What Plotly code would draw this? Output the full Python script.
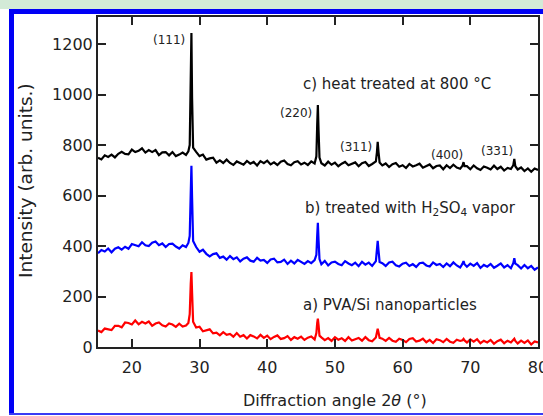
import plotly.graph_objects as go

# Diffraction angle 2θ (degrees), shared by all three patterns
two_theta = [
    15.0, 15.5, 16.0, 16.5, 17.0, 17.5, 18.0, 18.5, 19.0, 19.5, 20.0, 20.5, 21.0, 21.5,
    22.0, 22.5, 23.0, 23.5, 24.0, 24.5, 25.0, 25.5, 26.0, 26.5, 27.0, 27.5, 28.0,
    28.35, 28.55, 28.7, 28.8, 28.9, 29.05,
    29.5, 30.0, 30.5, 31.0, 31.5, 32.0, 32.5, 33.0, 33.5, 34.0, 34.5, 35.0, 35.5,
    36.0, 36.5, 37.0, 37.5, 38.0, 38.5, 39.0, 39.5, 40.0, 40.5, 41.0, 41.5, 42.0, 42.5,
    43.0, 43.5, 44.0, 44.5, 45.0, 45.5, 46.0, 46.5, 47.0,
    47.26, 47.38, 47.48, 47.58, 47.72,
    48.0, 48.5, 49.0, 49.5, 50.0, 50.5, 51.0, 51.5, 52.0, 52.5, 53.0, 53.5, 54.0, 54.5,
    55.0, 55.5,
    56.05, 56.2, 56.32, 56.44, 56.6,
    57.0, 57.5, 58.0, 58.5, 59.0, 59.5, 60.0, 60.5, 61.0, 61.5, 62.0, 62.5, 63.0, 63.5,
    64.0, 64.5, 65.0, 65.5, 66.0, 66.5, 67.0, 67.5, 68.0, 68.5,
    68.85, 69.0, 69.15,
    69.5, 70.0, 70.5, 71.0, 71.5, 72.0, 72.5, 73.0, 73.5, 74.0, 74.5, 75.0, 75.5, 76.0,
    76.35, 76.5, 76.65,
    77.0, 77.5, 78.0, 78.5, 79.0, 79.5, 80.0,
]

# a) PVA/Si nanoparticles
intensity_a = [
    65, 59, 73, 69, 67, 84, 84, 78, 97, 95, 89, 105, 90, 100,
    93, 101, 84, 93, 97, 86, 81, 93, 89, 80, 92, 81, 85,
    95, 130, 250, 297, 215, 100,
    77, 80, 62, 67, 70, 54, 57, 46, 59, 48, 52, 41, 55,
    41, 47, 34, 47, 42, 34, 48, 36, 45, 31, 40, 46, 32, 35,
    43, 28, 39, 33, 41, 28, 37, 42, 30,
    55, 95, 112, 88, 45,
    38, 27, 35, 24, 39, 29, 35, 24, 39, 26, 31, 36, 25, 39,
    27, 23,
    38, 60, 72, 58, 36,
    33, 24, 36, 25, 21, 33, 28, 19, 32, 35, 22, 25, 33, 19,
    28, 16, 31, 27, 19, 32, 21, 17, 29, 24,
    27, 32, 26,
    18, 30, 21, 31, 15, 25, 18, 28, 13, 23, 29, 15, 25, 18,
    26, 33, 24,
    14, 25, 16, 26, 10, 22, 18,
]

# b) treated with H2SO4 vapor
intensity_b = [
    371, 384, 378, 390, 375, 389, 395, 386, 397, 389, 408, 403, 399, 415,
    403, 400, 413, 418, 403, 410, 396, 408, 409, 398, 390, 403, 396,
    412, 440, 610, 718, 590, 420,
    396, 377, 385, 369, 359, 368, 371, 353, 358, 346, 360, 348, 355,
    339, 350, 355, 342, 338, 353, 342, 345, 333, 347, 350, 335, 337,
    346, 329, 342, 331, 345, 336, 329, 340, 332, 344,
    365, 440, 492, 425, 348,
    328, 341, 323, 335, 338, 329, 324, 340, 331, 324, 334, 320, 337, 326,
    334, 321,
    340, 385, 420, 382, 337,
    332, 321, 335, 338, 324, 319, 330, 334, 321, 328, 317, 332, 334, 323,
    319, 335, 325, 329, 317, 331, 320, 335, 323, 315,
    330, 340, 328,
    318, 330, 321, 332, 313, 325, 318, 329, 314, 322, 331, 315, 324, 312,
    332, 352, 330,
    324, 311, 325, 312, 321, 306, 315,
]

# c) heat treated at 800 °C
intensity_c = [
    750, 743, 759, 753, 762, 751, 765, 773, 765, 763, 782, 772, 777, 787,
    770, 780, 772, 780, 760, 771, 772, 759, 772, 756, 762, 770, 761,
    775, 800, 1020, 1244, 985, 790,
    773, 756, 762, 742, 747, 750, 730, 739, 729, 742, 729, 721, 735,
    730, 722, 737, 726, 733, 719, 736, 728, 738, 723, 731, 721, 734,
    739, 725, 720, 732, 736, 723, 730, 721, 735, 727,
    755, 880, 958, 860, 750,
    728, 719, 734, 722, 730, 716, 726, 733, 720, 724, 731, 716, 728, 733,
    717, 725,
    735, 770, 813, 772, 731,
    719, 727, 713, 724, 729, 714, 720, 709, 725, 715, 720, 726, 710, 715,
    723, 708, 717, 719, 704, 720, 709, 722, 711, 706,
    718, 732, 716,
    716, 704, 719, 708, 701, 715, 710, 703, 718, 705, 714, 699, 709, 705,
    720, 745, 716,
    703, 711, 697, 707, 694, 707, 701,
]

x_ticks = [20, 30, 40, 50, 60, 70, 80]
y_ticks = [0, 200, 400, 600, 800, 1000, 1200]

# Miller indices of the Si reflections with label anchor points (2θ, intensity)
miller_labels = ["(111)", "(220)", "(311)", "(400)", "(331)"]
miller_x = [28.1, 46.85, 55.75, 66.5, 73.9]
miller_y = [1216, 926, 791, 760, 775]
miller_anchor = ["right", "right", "right", "center", "center"]

sample_labels = [
    "c) heat treated at 800 °C",
    "b) treated with H<sub>2</sub>SO<sub>4</sub> vapor",
    "a) PVA/Si nanoparticles",
]
sample_x = [59.2, 61.2, 58.2]
sample_y = [1041, 548, 165]

W, H = 543, 416
L, R, T, B = 98, 5, 17, 69
PW, PH = W - L - R, H - T - B


def px(xp):
    return (xp - L) / PW


def py(yp):
    return (H - B - yp) / PH


FONT = "DejaVu Sans"
INK = "#222222"

fig = go.Figure()
for ys, color in [(intensity_c, "#000000"), (intensity_b, "#0000ff"), (intensity_a, "#ff0000")]:
    fig.add_trace(go.Scatter(x=two_theta, y=ys, mode="lines",
                             line=dict(color=color, width=2.2), hoverinfo="skip"))

annotations = []
for txt, x, y, anc in zip(miller_labels, miller_x, miller_y, miller_anchor):
    annotations.append(dict(x=x, y=y, xref="x", yref="y", text=txt, showarrow=False,
                            xanchor=anc, yanchor="middle",
                            font=dict(family=FONT, size=12, color=INK)))
for txt, x, y in zip(sample_labels, sample_x, sample_y):
    annotations.append(dict(x=x, y=y, xref="x", yref="y", text=txt, showarrow=False,
                            xanchor="center", yanchor="middle",
                            font=dict(family=FONT, size=15, color=INK)))
# axis titles
annotations.append(dict(x=px(335), y=py(400), xref="paper", yref="paper",
                        text="Diffraction angle 2<i>θ</i> (°)", showarrow=False,
                        xanchor="center", yanchor="middle",
                        font=dict(family=FONT, size=16, color=INK)))
annotations.append(dict(x=px(25), y=py(181), xref="paper", yref="paper",
                        text="Intensity (arb. units.)", showarrow=False, textangle=-90,
                        xanchor="center", yanchor="middle",
                        font=dict(family=FONT, size=18.5, color=INK)))

# page frame: green strip on top, blue border
shapes = [
    dict(type="rect", xref="paper", yref="paper", x0=px(0), x1=px(W), y0=py(9), y1=py(0),
         fillcolor="#d3ead7", line=dict(width=0), layer="below"),
    dict(type="rect", xref="paper", yref="paper", x0=px(9), x1=px(W), y0=py(14), y1=py(9),
         fillcolor="#0000f5", line=dict(width=0)),
    dict(type="rect", xref="paper", yref="paper", x0=px(9), x1=px(14), y0=py(415), y1=py(9),
         fillcolor="#0000f5", line=dict(width=0)),
    dict(type="rect", xref="paper", yref="paper", x0=px(9), x1=px(W), y0=py(415), y1=py(413),
         fillcolor="#3a3af5", line=dict(width=0)),
]

axis_common = dict(showgrid=False, zeroline=False, showline=True, linecolor="#222222",
                   linewidth=2, mirror="ticks", ticks="inside", ticklen=8, tickwidth=2,
                   tickcolor="#222222", automargin=False,
                   tickfont=dict(family=FONT, size=16, color=INK))

fig.update_layout(
    width=W, height=H,
    margin=dict(l=L, r=R, t=T, b=B, pad=0, autoexpand=False),
    paper_bgcolor="white", plot_bgcolor="white",
    showlegend=False,
    annotations=annotations,
    shapes=shapes,
    xaxis=dict(range=[15, 80], tickvals=x_ticks, ticktext=[str(v) for v in x_ticks],
               ticklabeloverflow="allow", ticklabelstandoff=5, **axis_common),
    yaxis=dict(range=[0, 1307], tickvals=y_ticks, ticktext=[str(v) for v in y_ticks],
               **axis_common),
)

fig.write_html("out.html")
